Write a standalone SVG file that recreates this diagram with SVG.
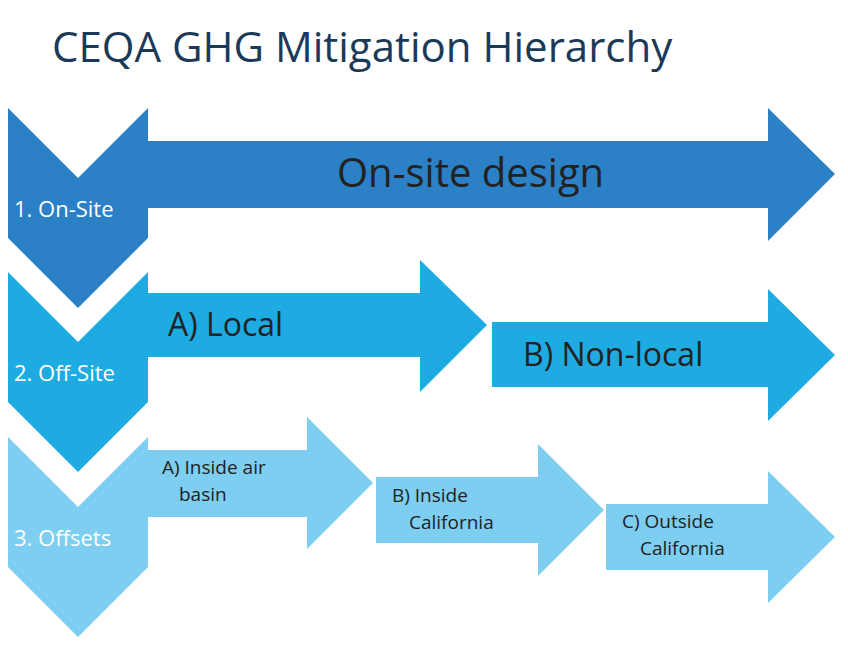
<svg xmlns="http://www.w3.org/2000/svg" width="848" height="647" viewBox="0 0 848 647">
<style>
text{font-family:"Open Sans","Liberation Sans",sans-serif}
.t{fill:#1b3a57;font-size:42px}
.w{fill:#fff;font-size:22px}
.d{fill:#222}
.c1{fill:#2b80c6}.c2{fill:#1eabe2}.c3{fill:#7dcef0}
</style>
<rect width="848" height="647" fill="#fff"/>
<text class="t" x="52" y="62">CEQA GHG Mitigation Hierarchy</text>
<g id="onsite">
<polygon class="c1" points="8,108 78,178 148,108 148,238 78,308 8,238"/>
<text class="w" x="14" y="217">1. On-Site</text>
</g>
<g id="onsite-design">
<polygon class="c1" points="148,141 768,141 768,108 835,174 768,241 768,208 148,208"/>
<text class="d" x="337" y="187" font-size="40">On-site design</text>
</g>
<g id="offsite">
<polygon class="c2" points="8,272 78,342 148,272 148,402 78,472 8,402"/>
<text class="w" x="14" y="381">2. Off-Site</text>
</g>
<g id="local">
<polygon class="c2" points="148,293 420,293 420,260 487,325 420,392 420,357 148,357"/>
<text class="d" x="168" y="336" font-size="32">A) Local</text>
</g>
<g id="nonlocal">
<polygon class="c2" points="492,322 768,322 768,289 835,355 768,421 768,387 492,387"/>
<text class="d" x="523" y="366" font-size="32">B) Non-local</text>
</g>
<g id="offsets">
<polygon class="c3" points="8,437 78,507 148,437 148,567 78,637 8,567"/>
<text class="w" x="14" y="546">3. Offsets</text>
</g>
<g id="inside-air">
<polygon class="c3" points="148,450 307,450 307,417 373,483 307,549 307,517 148,517"/>
<text class="d" font-size="19"><tspan x="162" y="474">A) Inside air</tspan><tspan x="179" y="501">basin</tspan></text>
</g>
<g id="inside-ca">
<polygon class="c3" points="376,477 538,477 538,444 604,510 538,576 538,543 376,543"/>
<text class="d" font-size="19"><tspan x="392" y="502">B) Inside</tspan><tspan x="409" y="529">California</tspan></text>
</g>
<g id="outside-ca">
<polygon class="c3" points="606,504 768,504 768,471 835,537 768,603 768,570 606,570"/>
<text class="d" font-size="19"><tspan x="622" y="528">C) Outside</tspan><tspan x="640" y="555">California</tspan></text>
</g>
<g id="connectors"/>
</svg>
